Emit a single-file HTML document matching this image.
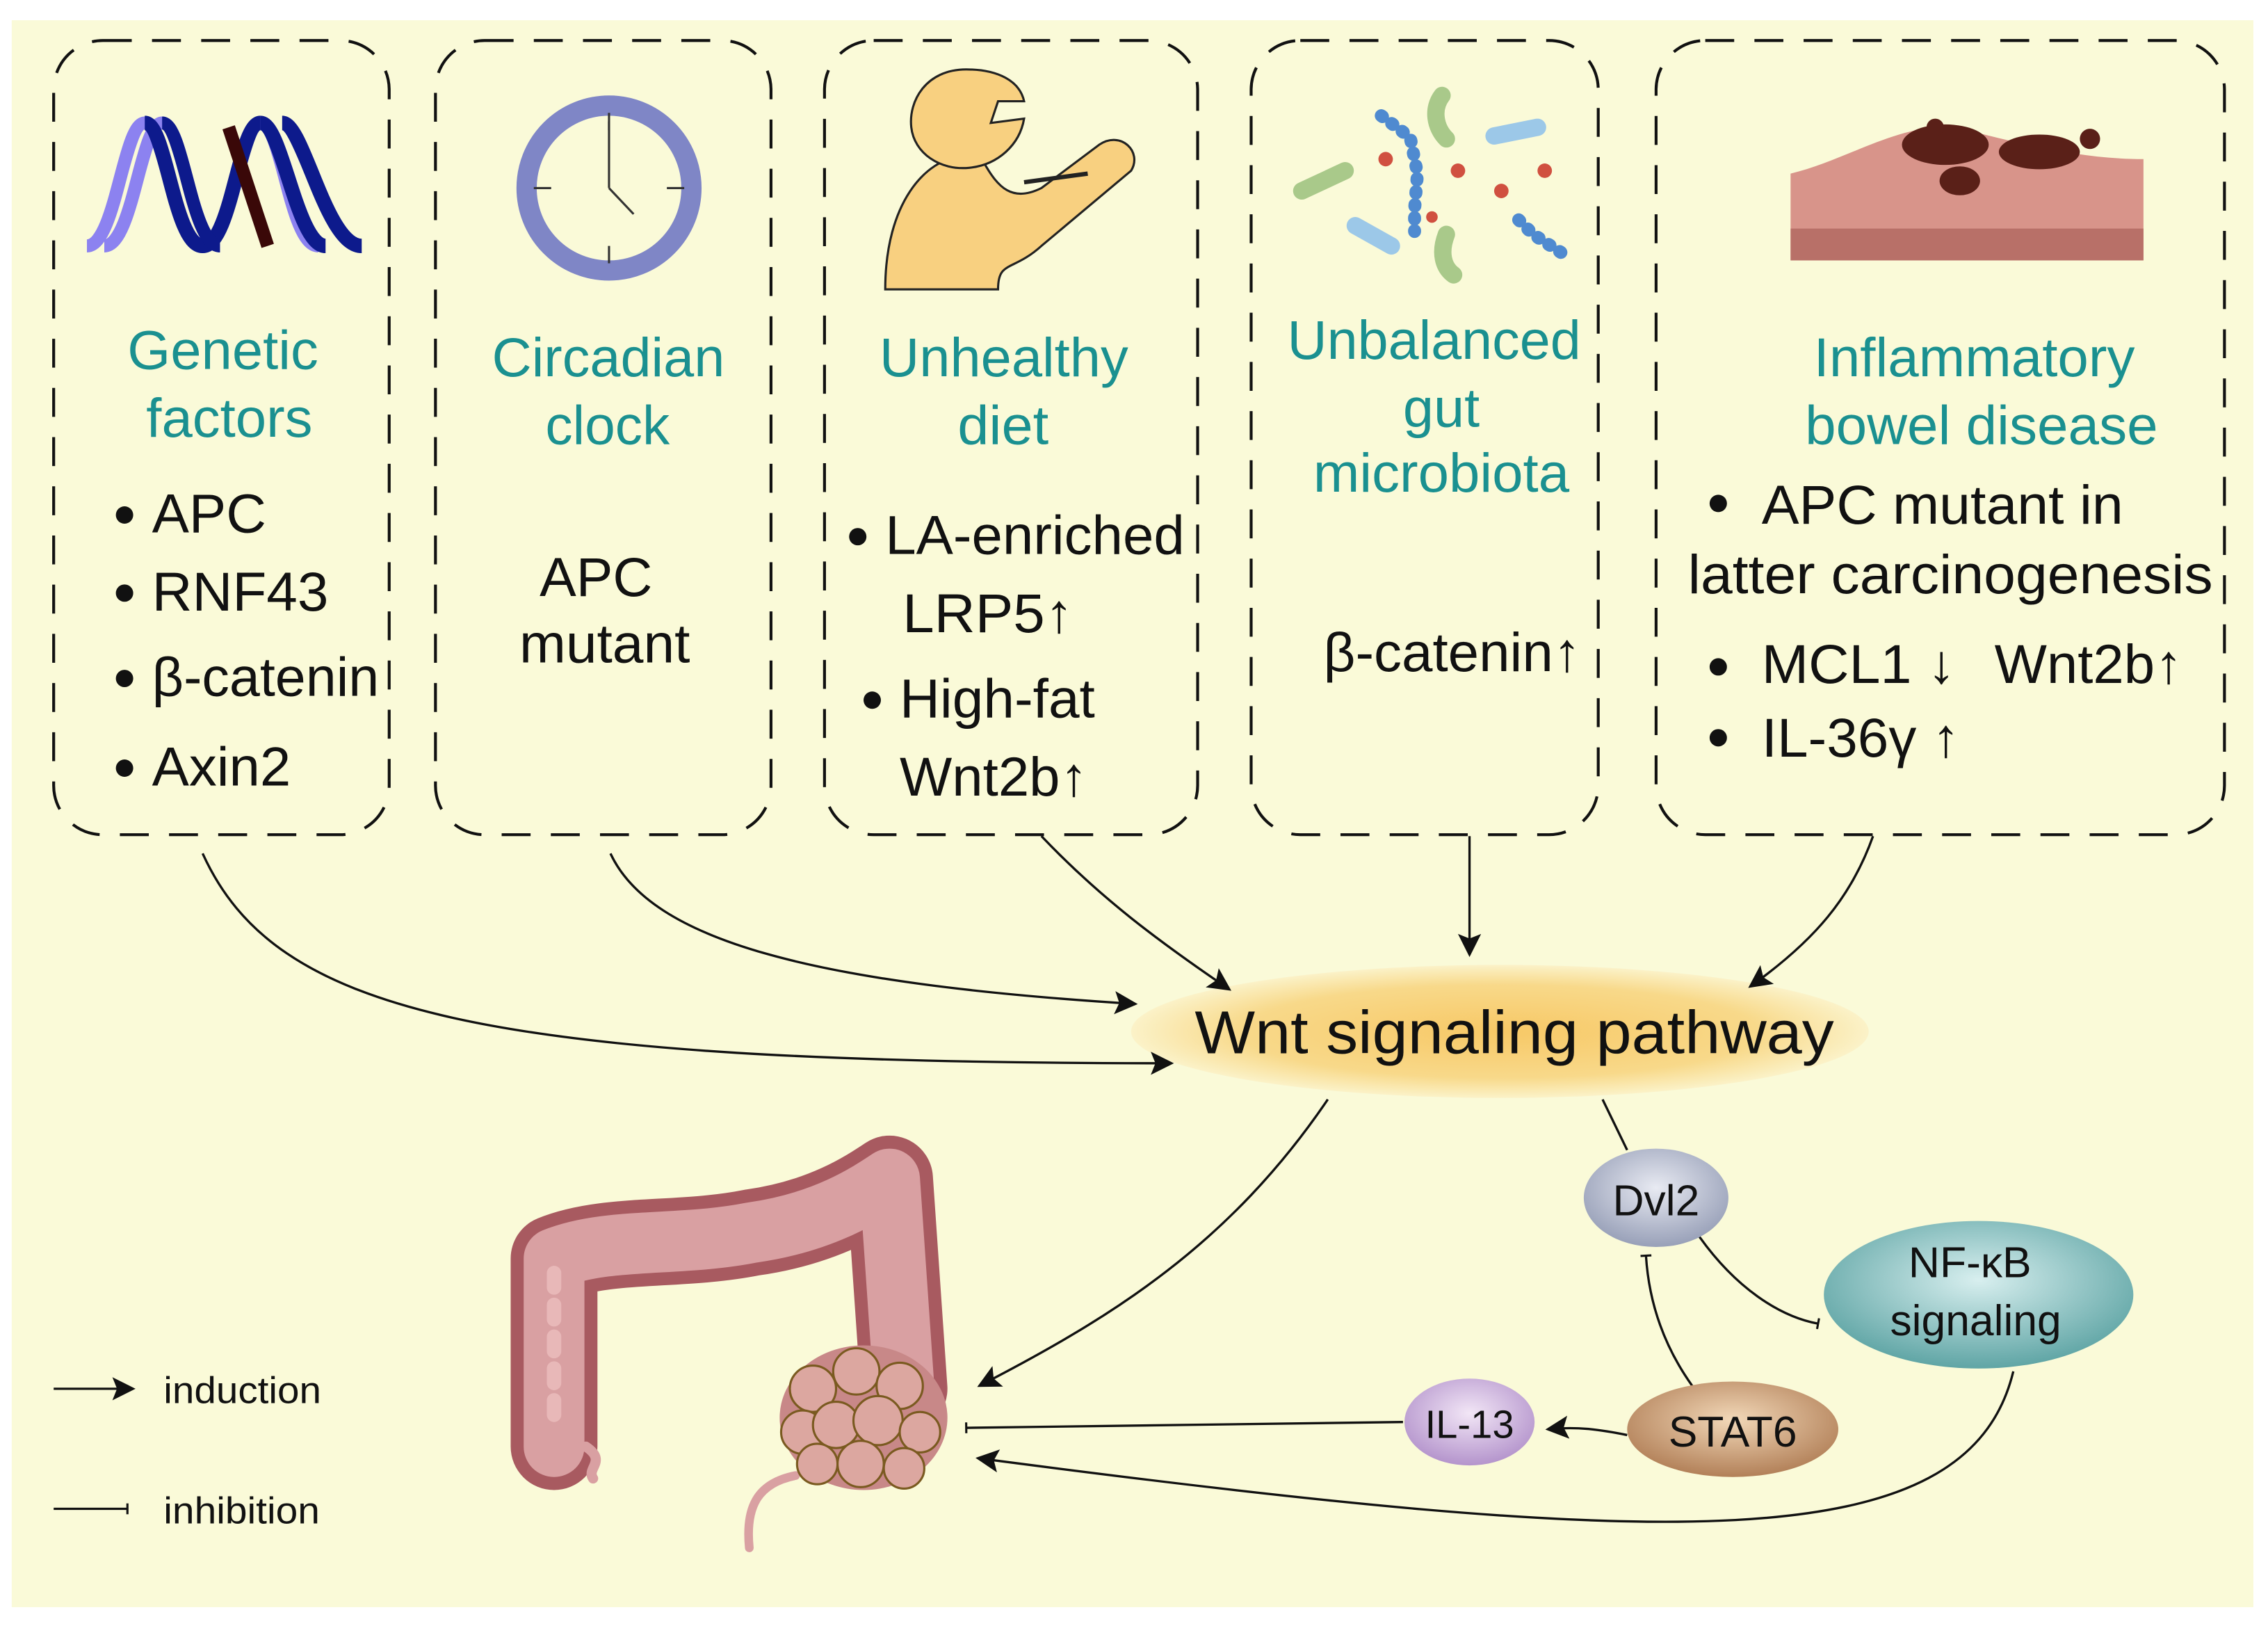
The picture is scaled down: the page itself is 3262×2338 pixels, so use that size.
<!DOCTYPE html>
<html><head><meta charset="utf-8"><style>
html,body{margin:0;padding:0;background:#fff}
svg{display:block}
text{font-family:"Liberation Sans",sans-serif}
.t{fill:#1a9090;font-size:38px}
.b{fill:#111;font-size:38px}
</style></head><body>
<svg width="3262" height="2338" viewBox="0 0 1568 1124" xmlns="http://www.w3.org/2000/svg">
<defs>
<radialGradient id="wnt" cx="50%" cy="50%" r="50%"><stop offset="0" stop-color="#f7c866"/><stop offset="0.7" stop-color="#f8d98a"/><stop offset="1" stop-color="#fbf2c8"/></radialGradient>
<radialGradient id="dvl" cx="50%" cy="40%" r="60%"><stop offset="0" stop-color="#e8eaf2"/><stop offset="1" stop-color="#98a0b8"/></radialGradient>
<radialGradient id="nf" cx="50%" cy="40%" r="60%"><stop offset="0" stop-color="#d8efef"/><stop offset="1" stop-color="#5fa5a5"/></radialGradient>
<radialGradient id="st" cx="50%" cy="40%" r="60%"><stop offset="0" stop-color="#f2d8b8"/><stop offset="1" stop-color="#b28058"/></radialGradient>
<radialGradient id="il" cx="50%" cy="40%" r="60%"><stop offset="0" stop-color="#f2e6f6"/><stop offset="1" stop-color="#b494cc"/></radialGradient>
<marker id="ar2" viewBox="0 0 10 10" refX="9" refY="5" markerWidth="20" markerHeight="16" markerUnits="userSpaceOnUse" orient="auto"><path d="M0,0 L10,5 L0,10 L2,5 z" fill="#111"/></marker>
<marker id="bar" viewBox="0 0 4 10" refX="2" refY="5" markerWidth="3" markerHeight="14" markerUnits="userSpaceOnUse" orient="auto"><rect x="1" y="0" width="2" height="10" fill="#111"/></marker>
</defs>
<rect x="8" y="14" width="1550" height="1097" fill="#fafad8"/>
<g fill="none" stroke="#111" stroke-width="2" stroke-dasharray="20 14">
<rect x="37" y="28" width="232" height="549" rx="34"/>
<rect x="301" y="28" width="232" height="549" rx="34"/>
<rect x="570" y="28" width="258" height="549" rx="34"/>
<rect x="865" y="28" width="240" height="549" rx="34"/>
<rect x="1145" y="28" width="393" height="549" rx="34"/>
</g>
<!-- DNA -->
<g>
<path d="M60,170 C80,170 85,85 100,85 C115,85 120,170 140,170" fill="none" stroke="#8c82f0" stroke-width="9"/>
<path d="M72,170 C92,170 97,85 112,85 C127,85 132,170 152,170" fill="none" stroke="#8c82f0" stroke-width="9"/>
<path d="M140,170 C160,170 165,85 180,85 C195,85 200,170 220,170" fill="none" stroke="#8c82f0" stroke-width="9"/>
<path d="M100,85 C115,85 120,170 140,170 C160,170 165,85 180,85" fill="none" stroke="#0d1a8c" stroke-width="10"/>
<path d="M112,85 C127,85 132,170 152,170" fill="none" stroke="#0d1a8c" stroke-width="9"/>
<path d="M180,85 C195,85 205,170 225,170" fill="none" stroke="#0d1a8c" stroke-width="10"/>
<path d="M195,85 C210,85 225,170 250,170" fill="none" stroke="#0d1a8c" stroke-width="10"/>
<path d="M158,88 L185,170" fill="none" stroke="#3a0808" stroke-width="9"/>
</g>
<!-- Clock -->
<circle cx="421" cy="130" r="57" fill="#fafad8" stroke="#7f86c6" stroke-width="14"/>
<g stroke="#333" stroke-width="1.5"><line x1="421" y1="78" x2="421" y2="90"/><line x1="421" y1="170" x2="421" y2="182"/><line x1="369" y1="130" x2="381" y2="130"/><line x1="461" y1="130" x2="473" y2="130"/><line x1="421" y1="130" x2="421" y2="84"/><line x1="421" y1="130" x2="438" y2="148"/></g>
<!-- Person -->
<g fill="#f8d080" stroke="#222" stroke-width="1.5">
<path d="M612,200 C612,140 640,110 665,108 L680,112 C690,130 700,140 720,130 L760,100 C775,90 790,105 782,118 L720,170 C700,188 690,180 690,200 Z"/>
<path d="M668,48 C640,48 628,70 630,88 C632,106 650,118 670,116 C690,114 705,100 708,82 L685,85 L690,70 L708,70 C705,56 690,48 668,48 Z"/>
<path d="M708,126 L752,120" stroke="#222" stroke-width="3"/>
</g>
<!-- microbes -->
<g stroke-linecap="round">
<path d="M900,132 L930,118" stroke="#a9c98a" stroke-width="12" fill="none"/>
<path d="M997,66 C990,75 992,88 1000,96" stroke="#a9c98a" stroke-width="12" fill="none"/>
<path d="M1000,162 C995,175 998,185 1005,190" stroke="#a9c98a" stroke-width="12" fill="none"/>
<path d="M1033,94 L1063,88" stroke="#9cc8e8" stroke-width="12" fill="none"/>
<path d="M937,156 L962,170" stroke="#9cc8e8" stroke-width="12" fill="none"/>
<path d="M955,80 L975,95 L980,120 L978,145 L978,160" stroke="#4f8ad0" stroke-width="9" stroke-dasharray="1 8" fill="none"/>
<path d="M1050,152 L1060,162 L1080,175" stroke="#4f8ad0" stroke-width="9" stroke-dasharray="1 8" fill="none"/>
</g>
<g fill="#d05040"><circle cx="958" cy="110" r="5"/><circle cx="1008" cy="118" r="5"/><circle cx="1038" cy="132" r="5"/><circle cx="1068" cy="118" r="5"/><circle cx="990" cy="150" r="4"/></g>
<!-- tissue -->
<path d="M1238,120 C1280,110 1320,80 1360,90 C1400,100 1440,110 1482,110 L1482,180 L1238,180 Z" fill="#d8948a"/>
<rect x="1238" y="158" width="244" height="22" fill="#b87068"/>
<g fill="#5a2018"><ellipse cx="1345" cy="100" rx="30" ry="14"/><ellipse cx="1410" cy="105" rx="28" ry="12"/><ellipse cx="1355" cy="125" rx="14" ry="10"/><circle cx="1445" cy="96" r="7"/><circle cx="1338" cy="88" r="6"/></g>
<!-- texts -->
<g lengthAdjust="spacingAndGlyphs">
<text class="t" x="88" y="255" textLength="132" lengthAdjust="spacingAndGlyphs">Genetic</text>
<text class="t" x="101" y="302" textLength="115" lengthAdjust="spacingAndGlyphs">factors</text>
<text class="t" x="340" y="260" textLength="161" lengthAdjust="spacingAndGlyphs">Circadian</text>
<text class="t" x="377" y="307" textLength="86" lengthAdjust="spacingAndGlyphs">clock</text>
<text class="t" x="608" y="260" textLength="172" lengthAdjust="spacingAndGlyphs">Unhealthy</text>
<text class="t" x="662" y="307" textLength="63" lengthAdjust="spacingAndGlyphs">diet</text>
<text class="t" x="890" y="248" textLength="203" lengthAdjust="spacingAndGlyphs">Unbalanced</text>
<text class="t" x="970" y="295" textLength="53" lengthAdjust="spacingAndGlyphs">gut</text>
<text class="t" x="908" y="340" textLength="177" lengthAdjust="spacingAndGlyphs">microbiota</text>
<text class="t" x="1254" y="260" textLength="222" lengthAdjust="spacingAndGlyphs">Inflammatory</text>
<text class="t" x="1248" y="307" textLength="244" lengthAdjust="spacingAndGlyphs">bowel disease</text>

<text class="b" x="105" y="368" textLength="79" lengthAdjust="spacingAndGlyphs">APC</text>
<text class="b" x="105" y="422" textLength="122" lengthAdjust="spacingAndGlyphs">RNF43</text>
<text class="b" x="105" y="481" textLength="157" lengthAdjust="spacingAndGlyphs">β-catenin</text>
<text class="b" x="105" y="543" textLength="96" lengthAdjust="spacingAndGlyphs">Axin2</text>
<text class="b" x="373" y="412" textLength="78" lengthAdjust="spacingAndGlyphs">APC</text>
<text class="b" x="359" y="458" textLength="118" lengthAdjust="spacingAndGlyphs">mutant</text>
<text class="b" x="612" y="383" textLength="207" lengthAdjust="spacingAndGlyphs">LA-enriched</text>
<text class="b" x="624" y="437" textLength="118" lengthAdjust="spacingAndGlyphs">LRP5↑</text>
<text class="b" x="622" y="496" textLength="135" lengthAdjust="spacingAndGlyphs">High-fat</text>
<text class="b" x="622" y="550" textLength="130" lengthAdjust="spacingAndGlyphs">Wnt2b↑</text>
<text class="b" x="915" y="464" textLength="178" lengthAdjust="spacingAndGlyphs">β-catenin↑</text>
<text class="b" x="1218" y="362" textLength="250" lengthAdjust="spacingAndGlyphs">APC mutant in</text>
<text class="b" x="1167" y="410" textLength="363" lengthAdjust="spacingAndGlyphs">latter  carcinogenesis</text>
<text class="b" x="1218" y="472" textLength="134" lengthAdjust="spacingAndGlyphs">MCL1 ↓</text>
<text class="b" x="1379" y="472" textLength="130" lengthAdjust="spacingAndGlyphs">Wnt2b↑</text>
<text class="b" x="1218" y="523" textLength="137" lengthAdjust="spacingAndGlyphs">IL-36γ ↑</text>
</g>
<g fill="#111"><circle cx="86" cy="356" r="6"/><circle cx="86" cy="410" r="6"/><circle cx="86" cy="469" r="6"/><circle cx="86" cy="531" r="6"/><circle cx="593" cy="371" r="6"/><circle cx="603" cy="484" r="6"/><circle cx="1188" cy="348" r="6"/><circle cx="1188" cy="461" r="6"/><circle cx="1188" cy="510" r="6"/></g>
<!-- Wnt -->
<ellipse cx="1037" cy="713" rx="255" ry="46" fill="url(#wnt)"/>
<text x="826" y="728" font-size="42" textLength="442" lengthAdjust="spacingAndGlyphs" fill="#111">Wnt signaling pathway</text>
<!-- arrows -->
<g fill="none" stroke="#111" stroke-width="1.6">
<path d="M140,590 C190,700 330,735 810,735" marker-end="url(#ar2)"/>
<path d="M422,590 C450,650 560,680 785,694" marker-end="url(#ar2)"/>
<path d="M720,578 C760,620 800,650 850,684" marker-end="url(#ar2)"/>
<path d="M1016,578 L1016,660" marker-end="url(#ar2)"/>
<path d="M1295,578 C1280,620 1255,650 1210,682" marker-end="url(#ar2)"/>
<path d="M918,760 C850,860 770,910 677,958" marker-end="url(#ar2)"/>
<path d="M1108,760 L1125,795"/>
<path d="M1175,855 C1200,890 1230,910 1257,915" marker-end="url(#bar)"/>
<path d="M1170,958 C1150,930 1140,900 1138,868" marker-end="url(#bar)"/>
<path d="M1125,992 C1105,988 1090,986 1070,988" marker-end="url(#ar2)"/>
<path d="M970,983 L668,987" marker-end="url(#bar)"/>
<path d="M1392,948 C1360,1080 1150,1070 676,1008" marker-end="url(#ar2)"/>
<path d="M37,960 L92,960" marker-end="url(#ar2)"/>
<path d="M37,1043 L88,1043" marker-end="url(#bar)"/>
</g>
<text x="113" y="970" font-size="26" textLength="109" lengthAdjust="spacingAndGlyphs" fill="#111">induction</text>
<text x="113" y="1053" font-size="26" textLength="108" lengthAdjust="spacingAndGlyphs" fill="#111">inhibition</text>
<ellipse cx="1145" cy="828" rx="50" ry="34" fill="url(#dvl)"/><text x="1145" y="840" font-size="30" text-anchor="middle" fill="#111">Dvl2</text>
<ellipse cx="1368" cy="895" rx="107" ry="51" fill="url(#nf)"/><text x="1362" y="883" font-size="30" text-anchor="middle" fill="#111">NF-κB</text><text x="1366" y="923" font-size="30" text-anchor="middle" fill="#111">signaling</text>
<ellipse cx="1198" cy="988" rx="73" ry="33" fill="url(#st)"/><text x="1198" y="1000" font-size="30" text-anchor="middle" fill="#111">STAT6</text>
<ellipse cx="1016" cy="983" rx="45" ry="30" fill="url(#il)"/><text x="1016" y="994" font-size="27" text-anchor="middle" fill="#111">IL-13</text>
<!-- colon -->
<g stroke-linecap="round" stroke-linejoin="round" fill="none">
<path d="M383,1000 L383,870 C420,855 470,862 520,852 C570,845 600,825 615,815 L625,960" stroke="#a85a60" stroke-width="60"/>
<path d="M383,1000 L383,870 C420,855 470,862 520,852 C570,845 600,825 615,815 L625,960" stroke="#d9a0a2" stroke-width="42"/>
<path d="M383,880 L383,990" stroke="#e8b8b8" stroke-width="10" stroke-dasharray="10 12"/>
<path d="M405,1000 C420,1010 405,1015 410,1022" stroke="#d9a0a2" stroke-width="7"/>
<path d="M550,1020 C525,1025 515,1040 518,1070" stroke="#d9a0a2" stroke-width="6"/>
</g>
<ellipse cx="597" cy="980" rx="58" ry="50" fill="#c88888"/>
<g fill="#dca7a0" stroke="#7a5a20" stroke-width="1.5">
<circle cx="562" cy="960" r="16"/><circle cx="592" cy="948" r="16"/><circle cx="622" cy="958" r="16"/><circle cx="555" cy="990" r="15"/><circle cx="578" cy="985" r="16"/><circle cx="607" cy="982" r="17"/><circle cx="636" cy="990" r="14"/><circle cx="565" cy="1012" r="14"/><circle cx="595" cy="1012" r="16"/><circle cx="625" cy="1015" r="14"/>
</g>
</svg>
</body></html>
